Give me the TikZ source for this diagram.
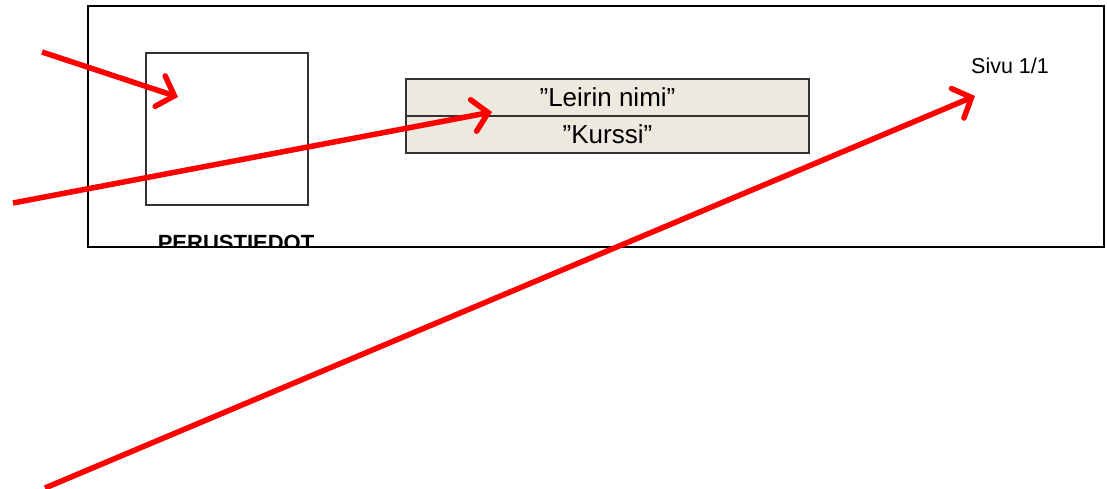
\documentclass[tikz,border=0pt]{standalone}
\usepackage{fontspec}
\setmainfont{Liberation Sans}
\usetikzlibrary{arrows.meta}
\definecolor{beige}{HTML}{ECE9DF}
\definecolor{redarrow}{HTML}{FF0000}
\tikzset{
  frame/.style={draw=black, line width=2pt},
  box/.style={draw=black!80, line width=1.3pt},
  cell/.style={draw=black!80, fill=beige, line width=1.2pt, minimum width=403pt, minimum height=37pt, inner sep=0pt, font=\fontsize{26}{30}\selectfont},
  pointer/.style={draw=redarrow, line width=5.5pt, -{Straight Barb[length=15pt,width=32pt,line cap=round]}},
}
\begin{document}
\begin{tikzpicture}[x=1pt,y=-1pt]
\useasboundingbox (0,0) rectangle (1107,488);
\fill[white] (0,0) rectangle (1107,488);
% frame
\draw[frame] (88,6) rectangle (1104,247);
\coordinate (fnw) at (88,6);
\coordinate (fse) at (1104,247);
% square
\node[box, minimum width=162pt, minimum height=152pt, inner sep=0pt] (sq) at (227,129) {};
% label clipped
\begin{scope}
\clip (fnw) rectangle (fse);
\node[anchor=base, inner sep=0pt, font=\fontsize{22}{26}\selectfont\bfseries] (lbl) at (236,250) {PERUSTIEDOT};
\end{scope}
% table
\node[cell] (c1) at (607.5,97.5) {”Leirin nimi”};
\node[cell] (c2) at (607.5,134.5) {”Kurssi”};
% page
\node[inner sep=0pt, font=\fontsize{21.5}{25}\selectfont] (page) at (1010,66) {Sivu 1/1};
% arrows
\coordinate (s1) at (42,52);
\coordinate (t1) at (178,97);
\coordinate (s2) at (13,203);
\coordinate (t2) at (492,112);
\coordinate (s3) at (45,488);
\coordinate (t3) at (975,96);
\draw[pointer] (s1) -- (t1);
\draw[pointer] (s2) -- (t2);
\draw[pointer] (s3) -- (t3);
\end{tikzpicture}
\end{document}
